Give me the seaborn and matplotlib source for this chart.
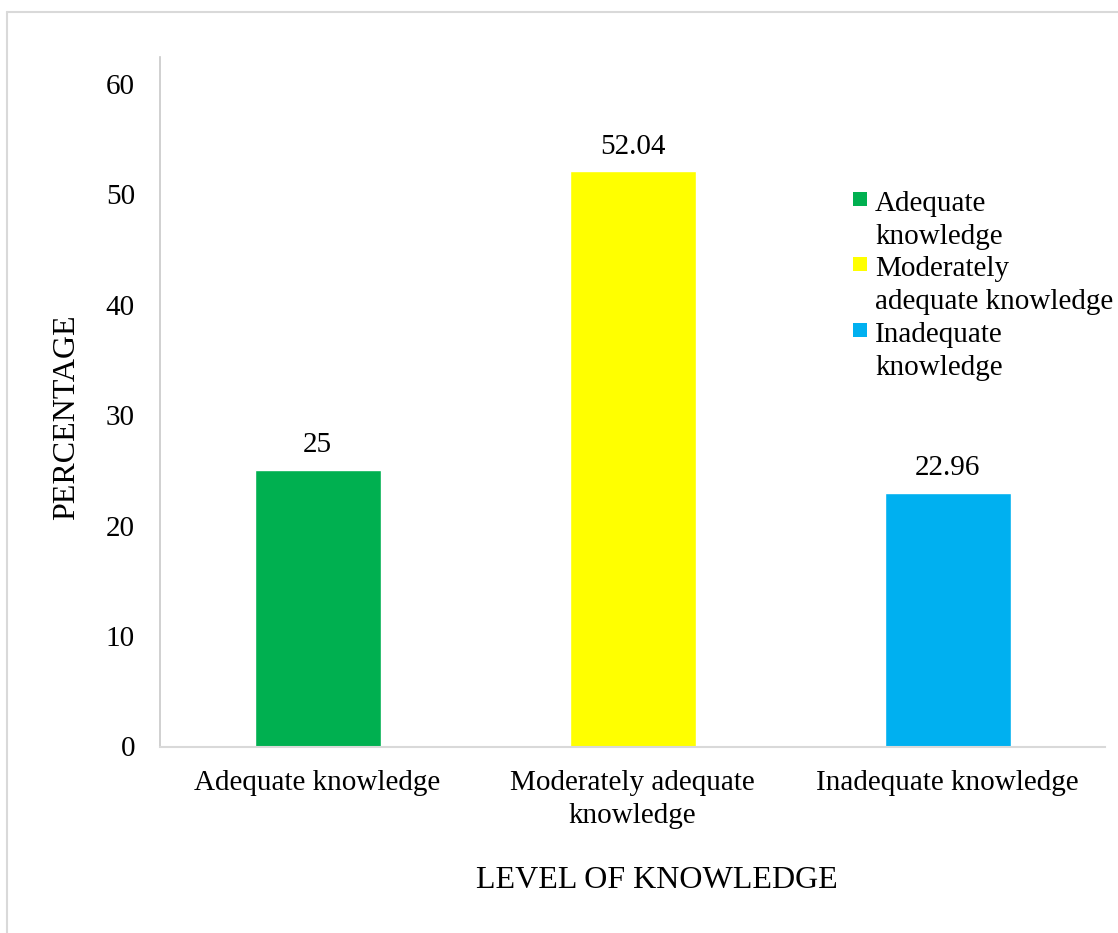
import matplotlib
matplotlib.use("Agg")
import matplotlib.pyplot as plt
import seaborn as sns
from matplotlib.patches import Patch, Rectangle
from matplotlib.legend_handler import HandlerPatch
from matplotlib.lines import Line2D

# Data
categories = ["Adequate knowledge", "Moderately adequate knowledge", "Inadequate knowledge"]
values = [25, 52.04, 22.96]
value_labels = ["25", "52.04", "22.96"]
tick_labels = ["Adequate knowledge", "Moderately adequate\nknowledge", "Inadequate knowledge"]
legend_labels = ["Adequate\nknowledge", "Moderately\nadequate knowledge", "Inadequate\nknowledge"]
colors = ["#00B050", "#FFFF00", "#00B0F0"]
y_ticks = [0, 10, 20, 30, 40, 50, 60]

sns.set_theme(style="white")
plt.rcParams["font.family"] = ["Liberation Serif", "DejaVu Serif"]
plt.rcParams["text.color"] = "black"
plt.rcParams["axes.labelcolor"] = "black"
FS = 21
FS_TITLE = 23

W, H = 1118, 933
fig = plt.figure(figsize=(W / 100, H / 100), dpi=100)
ax = fig.add_axes([160 / W, 1 - 746.5 / H, 945 / W, 689.5 / H])

sns.barplot(x=categories, y=values, hue=categories, palette=colors,
            width=0.4, saturation=1, legend=False, ax=ax)

ax.set_xlim(-0.5, 2.5)
ax.set_ylim(0, 62.4)
ax.set_yticks(y_ticks)
ax.set_yticklabels([str(t) for t in y_ticks], fontsize=FS)
ax.set_xticks(range(len(categories)))
ax.set_xticklabels(tick_labels, fontsize=FS, linespacing=1.33)
ax.tick_params(axis="y", length=0, pad=18, colors="black")
ax.tick_params(axis="x", length=0, pad=17, colors="black")

for side in ["top", "right"]:
    ax.spines[side].set_visible(False)
ax.spines["left"].set_color("#C8C8C8")
ax.spines["bottom"].set_color("#D9D9D9")
ax.spines["left"].set_linewidth(1.2)
ax.spines["bottom"].set_linewidth(1.5)

# Value labels above bars
for cont, lab in zip(ax.containers, value_labels):
    ax.bar_label(cont, labels=[lab], padding=8.5, fontsize=FS, color="black")

ax.set_ylabel("PERCENTAGE", fontsize=FS_TITLE, va="center")
ax.yaxis.set_label_coords((67 - 160) / 945, (746.5 - 417) / 689.5)
ax.set_xlabel("LEVEL OF KNOWLEDGE", fontsize=FS_TITLE, va="center")
ax.xaxis.set_label_coords((657 - 160) / 945, (746.5 - 880) / 689.5)


class TopAlignedPatch(HandlerPatch):
    """Square legend key aligned with the first line of a two-line label."""
    def __init__(self, shift, **kw):
        super().__init__(**kw)
        self.shift = shift

    def create_artists(self, legend, orig_handle, xdescent, ydescent,
                       width, height, fontsize, trans):
        p = Rectangle((-xdescent, -ydescent + self.shift), width, width,
                      facecolor=orig_handle.get_facecolor(), edgecolor="none",
                      transform=trans)
        return [p]


handles = [Patch(facecolor=c) for c in colors]
leg = ax.legend(handles, legend_labels, loc="upper left",
                bbox_to_anchor=(853 / W, 1 - 191 / H),
                bbox_transform=fig.transFigure, frameon=False,
                fontsize=FS, handlelength=0.48, handleheight=0.48,
                handletextpad=0.28, labelspacing=0.22, borderpad=0,
                borderaxespad=0,
                handler_map={Patch: TopAlignedPatch(shift=16)})
for t in leg.get_texts():
    t.set_linespacing(1.345)

# Light chart-area border
fig.add_artist(Line2D([7 / W, 1.0], [1 - 12 / H, 1 - 12 / H],
                      transform=fig.transFigure, color="#D9D9D9", lw=1.5))
fig.add_artist(Line2D([7 / W, 7 / W], [0.0, 1 - 12 / H],
                      transform=fig.transFigure, color="#D9D9D9", lw=1.5))

fig.savefig("out.png", dpi=100, facecolor="white")
